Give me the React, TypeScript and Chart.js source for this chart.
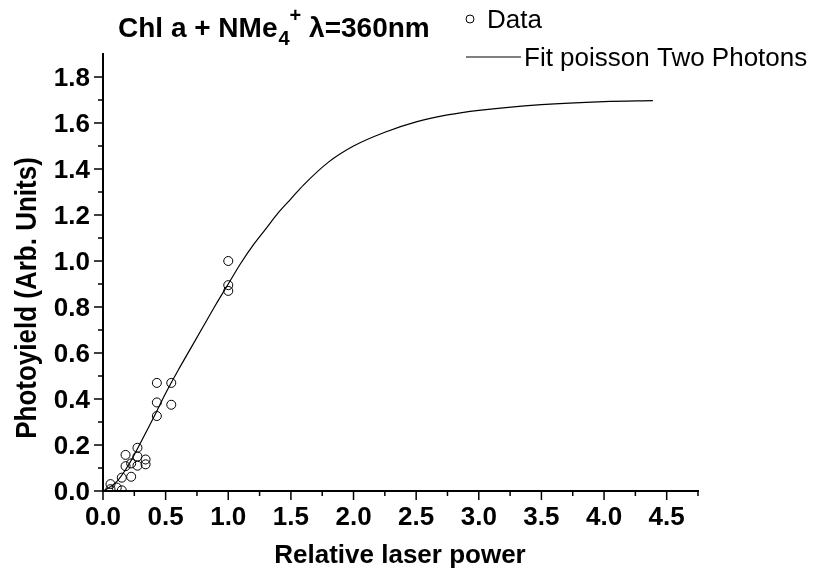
import React, { useEffect, useRef } from "react";
import { Chart, registerables } from "chart.js";

Chart.register(...registerables);

// Measured data points (Relative laser power, Photoyield)
const dataX = [1.0, 1.0, 1.0, 0.545, 0.545, 0.43, 0.43, 0.43, 0.275, 0.275, 0.275, 0.34, 0.34, 0.18, 0.18, 0.225, 0.225, 0.15, 0.06, 0.06, 0.11, 0.15];
const dataY = [1.0, 0.895, 0.87, 0.47, 0.375, 0.47, 0.385, 0.326, 0.188, 0.15, 0.11, 0.137, 0.116, 0.157, 0.108, 0.12, 0.062, 0.058, 0.03, 0.008, 0.015, 0.003];

// Fit curve values
const fitX = [0, 0.1, 0.2, 0.3, 0.4, 0.5, 0.6, 0.7, 0.8, 0.9, 1.0, 1.1, 1.2, 1.3, 1.4, 1.5, 1.6, 1.8, 2.0, 2.25, 2.5, 2.75, 3.0, 3.5, 4.0, 4.39];
const fitY = [0, 0.035, 0.11, 0.21, 0.315, 0.425, 0.525, 0.62, 0.715, 0.81, 0.9, 0.99, 1.07, 1.14, 1.21, 1.27, 1.33, 1.43, 1.5, 1.56, 1.605, 1.635, 1.655, 1.68, 1.693, 1.697];

const xMin = 0, xMax = 4.75, xStep = 0.5;
const yMin = 0, yMax = 1.9, yStep = 0.2;

const titleMain = "Chl a + NMe";
const titleSub = "4";
const titleSup = "+";
const titleRest = " \u03BB=360nm";
const xTitle = "Relative laser power";
const yTitle = "Photoyield (Arb. Units)";
const legendData = "Data";
const legendFit = "Fit poisson Two Photons";

const FONT = '"Liberation Sans", Arial, sans-serif';

function drawText(ctx: CanvasRenderingContext2D, s: string, x: number, y: number, font: string, align: CanvasTextAlign) {
  ctx.save();
  ctx.font = font;
  ctx.textAlign = align;
  ctx.textBaseline = "alphabetic";
  ctx.fillText(s, x, y);
  ctx.restore();
}

const decorPlugin = {
  id: "decor",
  afterDraw(chart: any) {
    const ctx: CanvasRenderingContext2D = chart.ctx;
    const xs = chart.scales.x;
    const ys = chart.scales.y;
    const area = chart.chartArea;
    ctx.save();
    ctx.fillStyle = "#000";
    ctx.strokeStyle = "#000";
    ctx.lineWidth = 1.5;
    const tickFont = `bold 26px ${FONT}`;
    xs.ticks.forEach((t: any) => {
      const px = xs.getPixelForValue(t.value);
      ctx.beginPath();
      ctx.moveTo(px, area.bottom);
      ctx.lineTo(px, area.bottom + 9);
      ctx.stroke();
      const mv = t.value + xStep / 2;
      if (mv <= xMax) {
        const mp = xs.getPixelForValue(mv);
        ctx.beginPath();
        ctx.moveTo(mp, area.bottom);
        ctx.lineTo(mp, area.bottom + 5);
        ctx.stroke();
      }
      drawText(ctx, t.value.toFixed(1), px, area.bottom + 34, tickFont, "center");
    });
    ys.ticks.forEach((t: any) => {
      const py = ys.getPixelForValue(t.value);
      ctx.beginPath();
      ctx.moveTo(area.left, py);
      ctx.lineTo(area.left - 9, py);
      ctx.stroke();
      const mv = t.value + yStep / 2;
      if (mv <= yMax) {
        const mp = ys.getPixelForValue(mv);
        ctx.beginPath();
        ctx.moveTo(area.left, mp);
        ctx.lineTo(area.left - 5, mp);
        ctx.stroke();
      }
      drawText(ctx, t.value.toFixed(1), area.left - 13, py + 9.3, tickFont, "right");
    });

    // axis titles
    drawText(ctx, xTitle, 400, 563, `bold 26px ${FONT}`, "center");
    ctx.save();
    ctx.translate(36, 298);
    ctx.rotate(-Math.PI / 2);
    ctx.scale(1, 1.15);
    ctx.font = `bold 26px ${FONT}`;
    ctx.textAlign = "center";
    ctx.textBaseline = "alphabetic";
    ctx.fillText(yTitle, 0, 0);
    ctx.restore();

    // title with sub/superscript
    const tf = `bold 28px ${FONT}`;
    const sf = `bold 20px ${FONT}`;
    let x = 118;
    const base = 37;
    drawText(ctx, titleMain, x, base, tf, "left");
    ctx.font = tf;
    x += ctx.measureText(titleMain).width + 1;
    drawText(ctx, titleSub, x, base + 8, sf, "left");
    ctx.font = sf;
    x += ctx.measureText(titleSub).width;
    drawText(ctx, titleSup, x, base - 15, sf, "left");
    x += ctx.measureText(titleSup).width;
    drawText(ctx, titleRest, x, base, tf, "left");

    // legend
    ctx.lineWidth = 1;
    ctx.beginPath();
    ctx.arc(470, 19, 4, 0, Math.PI * 2);
    ctx.stroke();
    drawText(ctx, legendData, 487, 28, `26px ${FONT}`, "left");
    ctx.beginPath();
    ctx.moveTo(466, 57);
    ctx.lineTo(521, 57);
    ctx.stroke();
    drawText(ctx, legendFit, 524, 66, `26px ${FONT}`, "left");
    ctx.restore();
  },
};

export default function App() {
  const ref = useRef<HTMLCanvasElement>(null);
  useEffect(() => {
    document.body.style.margin = "0";
    const canvas = ref.current!;
    const chart = new Chart(canvas, {
      type: "scatter",
      data: {
        datasets: [
          {
            label: legendData,
            data: dataX.map((x, i) => ({ x, y: dataY[i] })),
            showLine: false,
            pointStyle: "circle",
            pointRadius: 4.5,
            pointBorderWidth: 1,
            borderColor: "#000",
            backgroundColor: "rgba(0,0,0,0)",
          },
          {
            label: legendFit,
            data: fitX.map((x, i) => ({ x, y: fitY[i] })),
            showLine: true,
            pointRadius: 0,
            borderColor: "#000",
            borderWidth: 1.2,
            cubicInterpolationMode: "monotone",
          },
        ],
      },
      options: {
        responsive: false,
        animation: false,
        layout: { padding: { top: 54, right: 118, left: 0, bottom: 0 } },
        plugins: { legend: { display: false }, title: { display: false }, tooltip: { enabled: false } },
        scales: {
          x: {
            type: "linear",
            min: xMin,
            max: xMax,
            ticks: { stepSize: xStep, includeBounds: false, display: false },
            grid: { display: false },
            border: { display: true, color: "#000", width: 2 },
            afterFit: (s: any) => { s.height = 94; },
          },
          y: {
            type: "linear",
            min: yMin,
            max: yMax,
            ticks: { stepSize: yStep, includeBounds: false, display: false },
            grid: { display: false },
            border: { display: true, color: "#000", width: 2 },
            afterFit: (s: any) => { s.width = 103; },
          },
        },
      },
      plugins: [decorPlugin],
    });
    return () => chart.destroy();
  }, []);
  return (
    <div style={{ position: "absolute", left: 0, top: 0, width: 816, height: 585, background: "#fff" }}>
      <canvas ref={ref} width={816} height={585} />
    </div>
  );
}
